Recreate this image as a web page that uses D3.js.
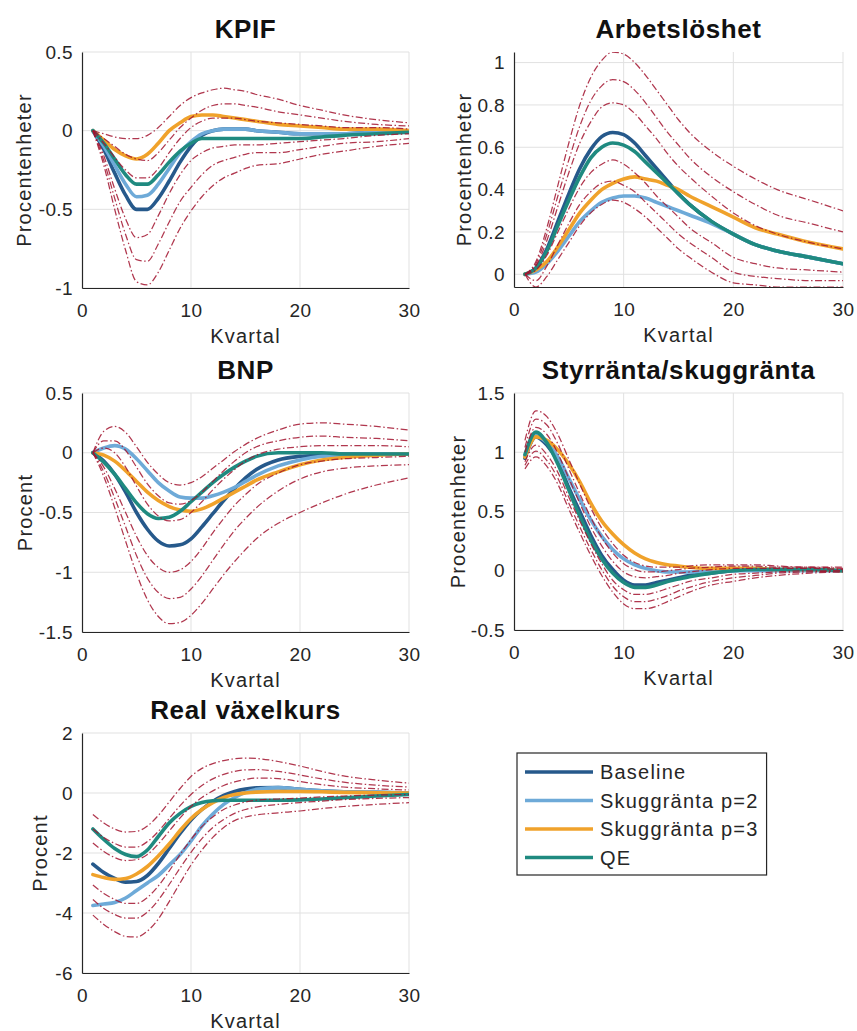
<!DOCTYPE html>
<html>
<head>
<meta charset="utf-8">
<script src="https://cdn.jsdelivr.net/npm/d3@7"></script>
<style>
  html, body { margin: 0; padding: 0; background: #fff; }
  svg { display: block; font-family: "Liberation Sans", Arial, Helvetica, sans-serif; }
</style>
</head>
<body>
<svg id="fig" width="857" height="1031"></svg>
<script>
// Quarters at which every response is sampled
const quarters = [1,2,3,4,5,6,7,8,9,10,11,12,13,14,15,16,18,20,22,24,27,30];
const xTicks = [0, 10, 20, 30];

const seriesNames = ["Baseline", "Skuggränta p=2", "Skuggränta p=3", "QE"];

// KPIF
const kpifBaseline = [0,-0.12,-0.27,-0.41,-0.50,-0.50,-0.43,-0.32,-0.20,-0.10,-0.03,0.00,0.01,0.01,0.01,0.00,-0.01,-0.02,-0.02,-0.02,-0.01,-0.01];
const kpifP2       = [0,-0.10,-0.22,-0.34,-0.42,-0.41,-0.34,-0.24,-0.14,-0.07,-0.02,0.00,0.01,0.01,0.01,0.00,-0.01,-0.02,-0.02,-0.02,-0.01,-0.01];
const kpifP3       = [0,-0.06,-0.12,-0.16,-0.18,-0.15,-0.08,0.00,0.05,0.09,0.10,0.10,0.09,0.08,0.07,0.06,0.04,0.03,0.02,0.01,0.01,0.00];
const kpifQE       = [0,-0.08,-0.18,-0.28,-0.34,-0.34,-0.28,-0.20,-0.13,-0.08,-0.05,-0.05,-0.05,-0.05,-0.05,-0.05,-0.05,-0.05,-0.04,-0.03,-0.02,-0.01];
const kpifBands = [
  [0,-0.02,-0.04,-0.05,-0.05,-0.03,0.02,0.09,0.16,0.21,0.24,0.26,0.27,0.26,0.25,0.23,0.20,0.16,0.13,0.10,0.07,0.05],
  [0,-0.05,-0.10,-0.15,-0.18,-0.19,-0.14,-0.06,0.02,0.08,0.13,0.16,0.17,0.17,0.16,0.15,0.12,0.10,0.08,0.06,0.04,0.03],
  [0,-0.08,-0.17,-0.25,-0.30,-0.30,-0.24,-0.14,-0.05,0.02,0.06,0.08,0.08,0.08,0.07,0.06,0.05,0.04,0.03,0.02,0.02,0.01],
  [0,-0.16,-0.37,-0.56,-0.68,-0.66,-0.54,-0.40,-0.28,-0.19,-0.14,-0.11,-0.10,-0.09,-0.09,-0.09,-0.08,-0.07,-0.06,-0.05,-0.03,-0.02],
  [0,-0.19,-0.43,-0.66,-0.82,-0.83,-0.72,-0.58,-0.45,-0.36,-0.28,-0.22,-0.19,-0.17,-0.15,-0.14,-0.14,-0.12,-0.10,-0.08,-0.07,-0.05],
  [0,-0.22,-0.50,-0.76,-0.96,-0.98,-0.90,-0.76,-0.62,-0.51,-0.42,-0.35,-0.30,-0.27,-0.24,-0.22,-0.21,-0.18,-0.15,-0.13,-0.10,-0.08]
];
const kpifTicks = [-1, -0.5, 0, 0.5];

// Arbetslöshet
const unBaseline = [0,0.03,0.12,0.25,0.38,0.50,0.59,0.65,0.67,0.66,0.62,0.56,0.50,0.44,0.38,0.33,0.25,0.19,0.14,0.11,0.08,0.05];
const unP2       = [0,0.01,0.05,0.11,0.18,0.25,0.30,0.34,0.36,0.37,0.37,0.36,0.34,0.32,0.30,0.28,0.24,0.19,0.14,0.11,0.08,0.05];
const unP3       = [0,0.02,0.06,0.13,0.21,0.29,0.35,0.40,0.43,0.45,0.46,0.45,0.44,0.42,0.40,0.37,0.32,0.27,0.22,0.19,0.15,0.12];
const unQE       = [0,0.03,0.11,0.23,0.35,0.46,0.55,0.60,0.62,0.61,0.58,0.53,0.48,0.43,0.38,0.33,0.25,0.19,0.14,0.11,0.08,0.05];
const unBands = [
  [0,0.06,0.22,0.42,0.62,0.80,0.93,1.01,1.05,1.04,1.00,0.94,0.87,0.80,0.73,0.67,0.58,0.51,0.45,0.40,0.35,0.30],
  [0,0.05,0.19,0.37,0.54,0.70,0.82,0.89,0.92,0.91,0.87,0.81,0.74,0.67,0.61,0.55,0.46,0.39,0.33,0.28,0.24,0.20],
  [0,0.04,0.16,0.32,0.48,0.62,0.72,0.79,0.81,0.80,0.76,0.70,0.64,0.57,0.51,0.46,0.37,0.29,0.23,0.19,0.15,0.12],
  [0,0.02,0.09,0.20,0.31,0.41,0.48,0.52,0.54,0.52,0.48,0.43,0.37,0.32,0.27,0.22,0.15,0.08,0.05,0.03,0.02,0.01],
  [0,-0.03,0.04,0.14,0.24,0.33,0.39,0.43,0.44,0.42,0.39,0.34,0.29,0.24,0.19,0.15,0.08,0.01,-0.01,-0.02,-0.03,-0.03],
  [0,-0.06,-0.01,0.07,0.15,0.23,0.29,0.33,0.35,0.34,0.31,0.27,0.22,0.17,0.12,0.08,0.01,-0.04,-0.05,-0.06,-0.06,-0.06]
];
const unTicks = [0, 0.2, 0.4, 0.6, 0.8, 1];

// BNP
const bnpBaseline = [0,-0.07,-0.18,-0.33,-0.50,-0.64,-0.74,-0.78,-0.77,-0.72,-0.62,-0.51,-0.40,-0.30,-0.21,-0.14,-0.06,-0.03,-0.02,-0.01,-0.01,-0.01];
const bnpP2       = [0,0.04,0.06,0.03,-0.05,-0.15,-0.25,-0.32,-0.37,-0.38,-0.38,-0.36,-0.33,-0.29,-0.24,-0.19,-0.11,-0.06,-0.03,-0.02,-0.01,-0.01];
const bnpP3       = [0,-0.02,-0.07,-0.15,-0.24,-0.33,-0.40,-0.45,-0.48,-0.49,-0.47,-0.43,-0.38,-0.33,-0.28,-0.23,-0.16,-0.10,-0.06,-0.04,-0.02,-0.01];
const bnpQE       = [0,-0.08,-0.18,-0.30,-0.42,-0.51,-0.55,-0.54,-0.49,-0.41,-0.33,-0.25,-0.18,-0.12,-0.07,-0.03,0.00,0.00,0.00,-0.01,-0.01,-0.01];
const bnpBands = [
  [0,0.18,0.22,0.17,0.05,-0.08,-0.18,-0.25,-0.27,-0.25,-0.20,-0.13,-0.06,0.01,0.07,0.12,0.19,0.24,0.25,0.24,0.22,0.19],
  [0,0.10,0.10,0.02,-0.12,-0.26,-0.36,-0.42,-0.43,-0.40,-0.33,-0.24,-0.15,-0.07,0.00,0.05,0.10,0.13,0.14,0.13,0.12,0.10],
  [0,0.04,0.00,-0.12,-0.28,-0.43,-0.53,-0.57,-0.56,-0.50,-0.41,-0.31,-0.22,-0.14,-0.07,-0.02,0.03,0.05,0.06,0.06,0.06,0.05],
  [0,-0.12,-0.30,-0.50,-0.70,-0.86,-0.96,-1.00,-0.98,-0.91,-0.80,-0.67,-0.55,-0.44,-0.35,-0.27,-0.17,-0.10,-0.07,-0.05,-0.04,-0.03],
  [0,-0.16,-0.38,-0.62,-0.86,-1.05,-1.17,-1.22,-1.21,-1.14,-1.03,-0.90,-0.77,-0.65,-0.55,-0.46,-0.32,-0.22,-0.16,-0.13,-0.11,-0.10],
  [0,-0.20,-0.46,-0.74,-1.01,-1.23,-1.37,-1.43,-1.42,-1.36,-1.26,-1.14,-1.02,-0.91,-0.81,-0.72,-0.59,-0.50,-0.42,-0.35,-0.27,-0.21]
];
const bnpTicks = [-1.5, -1, -0.5, 0, 0.5];

// Styrränta/skuggränta
const srBaseline = [0.95,1.13,1.06,0.92,0.70,0.50,0.30,0.13,0.01,-0.08,-0.12,-0.12,-0.10,-0.08,-0.06,-0.04,-0.02,0.00,0.01,0.01,0.01,0.00];
const srP2       = [0.97,1.14,1.08,0.96,0.78,0.60,0.43,0.29,0.18,0.10,0.05,0.02,0.00,-0.01,-0.01,-0.01,0.00,0.00,0.00,0.00,0.00,0.00];
const srP3       = [0.96,1.13,1.10,1.02,0.90,0.75,0.57,0.42,0.31,0.22,0.15,0.10,0.07,0.05,0.04,0.03,0.02,0.02,0.02,0.01,0.01,0.00];
const srQE       = [0.98,1.17,1.08,0.90,0.68,0.46,0.26,0.10,-0.02,-0.10,-0.14,-0.14,-0.12,-0.09,-0.07,-0.05,-0.02,0.00,0.01,0.01,0.01,0.00];
const srBands = [
  [1.10,1.35,1.30,1.15,0.94,0.73,0.53,0.36,0.23,0.13,0.07,0.04,0.03,0.03,0.03,0.04,0.05,0.05,0.05,0.04,0.03,0.03],
  [1.04,1.28,1.23,1.07,0.86,0.65,0.45,0.28,0.15,0.06,0.01,-0.01,-0.01,0.00,0.01,0.02,0.03,0.04,0.04,0.03,0.03,0.02],
  [1.00,1.21,1.15,0.99,0.78,0.57,0.37,0.21,0.08,-0.01,-0.05,-0.06,-0.05,-0.04,-0.02,-0.01,0.01,0.02,0.02,0.02,0.02,0.01],
  [0.92,1.06,0.98,0.83,0.62,0.42,0.23,0.06,-0.08,-0.16,-0.20,-0.20,-0.18,-0.15,-0.12,-0.09,-0.06,-0.03,-0.02,-0.01,0.00,0.00],
  [0.89,1.01,0.93,0.78,0.57,0.37,0.18,0.01,-0.13,-0.22,-0.26,-0.26,-0.24,-0.21,-0.17,-0.14,-0.09,-0.06,-0.04,-0.02,-0.01,0.00],
  [0.86,0.96,0.88,0.73,0.52,0.32,0.13,-0.04,-0.18,-0.28,-0.32,-0.32,-0.30,-0.26,-0.22,-0.18,-0.12,-0.09,-0.06,-0.04,-0.02,-0.01]
];
const srTicks = [-0.5, 0, 0.5, 1, 1.5];

// Real växelkurs
const rxBaseline = [-2.37,-2.65,-2.85,-2.97,-2.95,-2.75,-2.35,-1.85,-1.35,-0.90,-0.55,-0.28,-0.08,0.05,0.13,0.17,0.18,0.12,0.07,0.04,0.02,0.00];
const rxP2       = [-3.75,-3.70,-3.65,-3.50,-3.25,-3.00,-2.75,-2.40,-2.05,-1.60,-1.10,-0.70,-0.38,-0.15,0.02,0.12,0.18,0.12,0.07,0.04,0.02,0.00];
const rxP3       = [-2.72,-2.82,-2.88,-2.85,-2.70,-2.45,-2.10,-1.70,-1.25,-0.85,-0.55,-0.32,-0.15,-0.05,0.00,0.03,0.05,0.05,0.04,0.02,0.01,0.00];
const rxQE       = [-1.20,-1.55,-1.85,-2.05,-2.12,-1.90,-1.45,-1.00,-0.68,-0.45,-0.32,-0.26,-0.24,-0.24,-0.24,-0.24,-0.24,-0.23,-0.20,-0.16,-0.10,-0.05];
const rxBands = [
  [-0.72,-1.00,-1.20,-1.30,-1.28,-1.10,-0.75,-0.30,0.15,0.55,0.82,0.98,1.08,1.14,1.16,1.15,1.05,0.90,0.72,0.57,0.43,0.33],
  [-1.20,-1.48,-1.68,-1.80,-1.80,-1.62,-1.28,-0.85,-0.42,-0.05,0.25,0.47,0.62,0.72,0.77,0.78,0.72,0.60,0.47,0.36,0.26,0.20],
  [-1.67,-1.95,-2.15,-2.25,-2.22,-2.05,-1.70,-1.27,-0.83,-0.45,-0.15,0.07,0.25,0.37,0.45,0.50,0.48,0.38,0.28,0.20,0.14,0.10],
  [-3.07,-3.35,-3.55,-3.68,-3.68,-3.48,-3.10,-2.60,-2.05,-1.55,-1.12,-0.80,-0.55,-0.40,-0.30,-0.24,-0.20,-0.17,-0.13,-0.10,-0.07,-0.05],
  [-3.55,-3.85,-4.05,-4.17,-4.17,-3.97,-3.57,-3.05,-2.50,-1.98,-1.52,-1.15,-0.88,-0.68,-0.55,-0.47,-0.38,-0.32,-0.27,-0.22,-0.18,-0.15],
  [-4.07,-4.38,-4.62,-4.78,-4.80,-4.60,-4.20,-3.62,-3.00,-2.40,-1.90,-1.48,-1.15,-0.92,-0.80,-0.73,-0.66,-0.60,-0.52,-0.45,-0.38,-0.32]
];
const rxTicks = [-6, -4, -2, 0, 2];

// Line styling
const seriesColors = ["#26598b", "#6eaad8", "#f0a22b", "#1f8a80"];
const bandColor = "#a2142f";
const textColor = "#262626";
const fontStack = '"Liberation Sans", Arial, Helvetica, sans-serif';

// Panel layout (pixel boxes of each axes area)
const panels = [
  { title: "KPIF", ylabel: "Procentenheter", yDomain: [-1, 0.5], yTicks: kpifTicks,
    series: [kpifBaseline, kpifP2, kpifP3, kpifQE], bands: kpifBands,
    box: [82, 409, 52, 288], ylabX: 31 },
  { title: "Arbetslöshet", ylabel: "Procentenheter", yDomain: [-0.06, 1.05], yTicks: unTicks,
    series: [unBaseline, unP2, unP3, unQE], bands: unBands,
    box: [514, 843, 52, 287], ylabX: 471 },
  { title: "BNP", ylabel: "Procent", yDomain: [-1.5, 0.5], yTicks: bnpTicks,
    series: [bnpBaseline, bnpP2, bnpP3, bnpQE], bands: bnpBands,
    box: [82, 409, 393, 632], ylabX: 32 },
  { title: "Styrränta/skuggränta", ylabel: "Procentenheter", yDomain: [-0.5, 1.5], yTicks: srTicks,
    series: [srBaseline, srP2, srP3, srQE], bands: srBands,
    box: [514, 843, 393, 630], ylabX: 465 },
  { title: "Real växelkurs", ylabel: "Procent", yDomain: [-6, 2], yTicks: rxTicks,
    series: [rxBaseline, rxP2, rxP3, rxQE], bands: rxBands,
    box: [82, 409, 733, 973], ylabX: 47 }
];

const svg = d3.select("#fig");
const defs = svg.append("defs");

panels.forEach((p, i) => {
  const [x0, x1, y0, y1] = p.box;
  const x = d3.scaleLinear().domain([0, 30]).range([x0, x1]);
  const y = d3.scaleLinear().domain(p.yDomain).range([y1, y0]);
  const g = svg.append("g").attr("class", "panel");

  // grid
  g.append("g").selectAll("line.hgrid").data(p.yTicks).join("line")
    .attr("class", "hgrid")
    .attr("x1", x0).attr("x2", x1)
    .attr("y1", d => y(d)).attr("y2", d => y(d))
    .attr("stroke", "#e1e1e1").attr("stroke-width", 1);
  g.append("g").selectAll("line.vgrid").data(xTicks.filter(d => d > 0)).join("line")
    .attr("class", "vgrid")
    .attr("x1", d => x(d)).attr("x2", d => x(d))
    .attr("y1", y0).attr("y2", y1)
    .attr("stroke", "#e1e1e1").attr("stroke-width", 1);

  // clip to axes area
  const clipId = "clip" + i;
  defs.append("clipPath").attr("id", clipId).append("rect")
    .attr("x", x0).attr("y", y0).attr("width", x1 - x0).attr("height", y1 - y0);
  const plot = g.append("g").attr("clip-path", `url(#${clipId})`);

  const line = d3.line()
    .x((d, j) => x(quarters[j]))
    .y(d => y(d))
    .curve(d3.curveMonotoneX);

  // scenario responses
  plot.selectAll("path.series").data(p.series).join("path")
    .attr("class", "series")
    .attr("d", d => line(d))
    .attr("fill", "none")
    .attr("stroke", (d, k) => seriesColors[k])
    .attr("stroke-width", 3.6)
    .attr("stroke-linejoin", "round")
    .attr("stroke-linecap", "round");

  // uncertainty bands (dash-dot)
  plot.selectAll("path.band").data(p.bands).join("path")
    .attr("class", "band")
    .attr("d", d => line(d))
    .attr("fill", "none")
    .attr("stroke", bandColor)
    .attr("stroke-opacity", 0.85)
    .attr("stroke-width", 1.25)
    .attr("stroke-dasharray", "7,2.5,1.5,2.5");

  // axes
  const yAxis = d3.axisLeft(y).tickValues(p.yTicks).tickFormat(d => String(d))
    .tickSizeInner(0).tickSizeOuter(0).tickPadding(9);
  const ya = g.append("g").attr("transform", `translate(${x0},0)`).call(yAxis);
  const xAxis = d3.axisBottom(x).tickValues(xTicks).tickFormat(d => String(d))
    .tickSizeInner(0).tickSizeOuter(0).tickPadding(15.5);
  const xa = g.append("g").attr("transform", `translate(0,${y1})`).call(xAxis);
  [ya, xa].forEach(a => {
    a.attr("font-size", 19).attr("font-family", fontStack);
    a.select(".domain").attr("stroke", textColor).attr("stroke-width", 1.2);
    a.selectAll("text").attr("fill", textColor).style("letter-spacing", "0.4px");
  });

  // title
  g.append("text")
    .attr("x", (x0 + x1) / 2).attr("y", y0 - 14)
    .attr("text-anchor", "middle")
    .attr("font-size", 26).attr("font-weight", "bold")
    .style("letter-spacing", "0.6px")
    .attr("fill", "#111")
    .text(p.title);

  // x label
  g.append("text")
    .attr("x", (x0 + x1) / 2).attr("y", y1 + 55)
    .attr("text-anchor", "middle")
    .attr("font-size", 20).style("letter-spacing", "1.2px")
    .attr("fill", textColor)
    .text("Kvartal");

  // y label
  g.append("text")
    .attr("transform", `translate(${p.ylabX},${(y0 + y1) / 2}) rotate(-90)`)
    .attr("text-anchor", "middle")
    .attr("font-size", 20).style("letter-spacing", "1.2px")
    .attr("fill", textColor)
    .text(p.ylabel);
});

// legend
const lg = svg.append("g").attr("class", "legend");
const legX = 517, legY = 753, rowY0 = 772, rowStep = 28.5;
const box = lg.append("rect")
  .attr("x", legX).attr("y", legY).attr("height", 122)
  .attr("fill", "#fff").attr("stroke", textColor).attr("stroke-width", 1.2);
const rows = lg.selectAll("g.row").data(seriesNames).join("g")
  .attr("class", "row")
  .attr("transform", (d, k) => `translate(0,${rowY0 + k * rowStep})`);
rows.append("line")
  .attr("x1", 525).attr("x2", 593)
  .attr("stroke", (d, k) => seriesColors[k]).attr("stroke-width", 3.6);
rows.append("text")
  .attr("x", 600).attr("dy", "0.35em")
  .attr("font-size", 20).style("letter-spacing", "1.2px")
  .attr("fill", textColor)
  .text(d => d);
let maxW = 0;
rows.selectAll("text").each(function () { maxW = Math.max(maxW, this.getComputedTextLength()); });
box.attr("width", 600 + maxW + 8 - legX);
</script>
</body>
</html>
